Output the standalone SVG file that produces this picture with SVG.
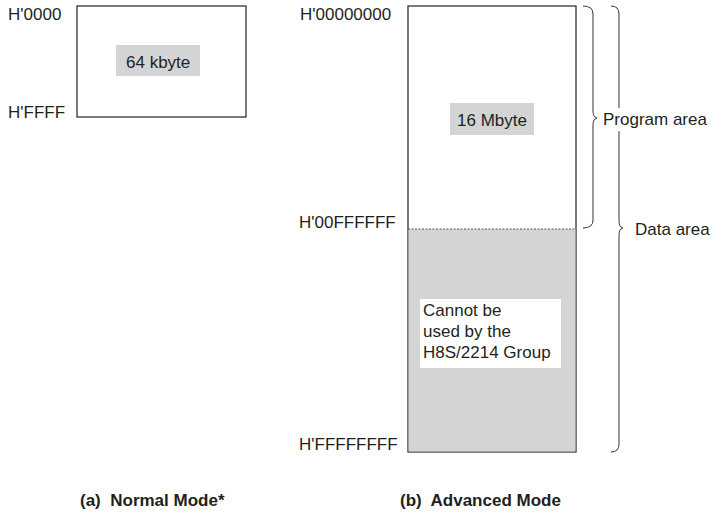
<svg xmlns="http://www.w3.org/2000/svg" width="724" height="514" viewBox="0 0 724 514">
<style>
text{font-family:"Liberation Sans",Arial,sans-serif;font-size:17px;fill:#231f20}
.cap{font-weight:bold}
.box{fill:#fff;stroke:#333;stroke-width:1.3}
.grey{fill:#d3d4d6}
.brace{fill:none;stroke:#333;stroke-width:1}
</style>
<rect width="724" height="514" fill="#fff"/>
<g id="normal">
<rect class="box" x="77" y="6" width="169" height="111"/>
<rect class="grey" x="116" y="45" width="84" height="31"/>
<text x="126" y="68">64 kbyte</text>
<text x="8" y="20">H'0000</text>
<text x="8" y="118">H'FFFF</text>
</g>
<g id="advanced">
<rect class="box" x="408" y="6" width="168" height="446"/>
<rect class="grey" x="408.6" y="229" width="166.8" height="222.4"/>
<line x1="408" y1="229" x2="576" y2="229" stroke="#555" stroke-width="1" stroke-dasharray="2,1.5"/>
<rect class="grey" x="450" y="103" width="84" height="32"/>
<text x="457" y="126">16 Mbyte</text>
<rect x="420" y="299" width="141" height="69" fill="#fff"/>
<text x="423" y="316">Cannot be</text>
<text x="423" y="337">used by the</text>
<text x="423" y="358">H8S/2214 Group</text>
<text x="300" y="20">H'00000000</text>
<text x="299" y="228">H'00FFFFFF</text>
<text x="299" y="450">H'FFFFFFFF</text>
</g>
<g id="connectors">
<path class="brace" d="M583,6 Q593,6 593,14 L593,111 Q593,117 597,118 Q593,119 593,125 L593,220 Q593,228 583,228"/>
<path class="brace" d="M611,6 Q619,6 619,14 L619,221 Q619,227 623,228 Q619,229 619,235 L619,444 Q619,452 611,452"/>
</g>
<g id="labels">
<rect x="601" y="108" width="110" height="23" fill="#fff"/>
<text x="603" y="125">Program area</text>
<text x="635" y="235">Data area</text>
<text class="cap" x="80" y="506" xml:space="preserve">(a)  Normal Mode*</text>
<text class="cap" x="400" y="506" xml:space="preserve">(b)  Advanced Mode</text>
</g>
</svg>
